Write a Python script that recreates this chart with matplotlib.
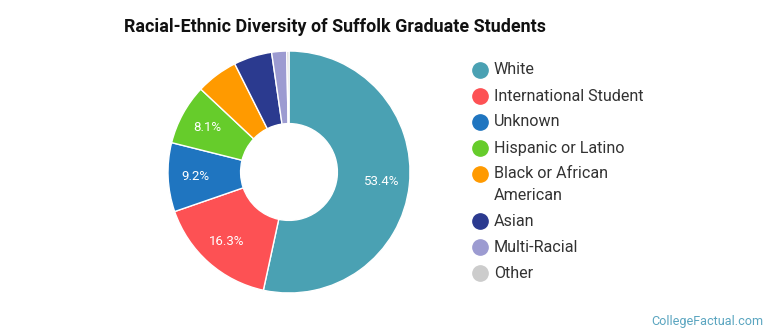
import numpy as np
import matplotlib.pyplot as plt
from matplotlib.lines import Line2D

plt.rcParams['font.family'] = ['Roboto', 'DejaVu Sans']

labels = ["White", "International Student", "Unknown", "Hispanic or Latino",
          "Black or African\nAmerican", "Asian", "Multi-Racial", "Other"]
valores = [53.4, 16.3, 9.2, 8.1, 5.6, 5.1, 2.0, 0.3]
cores = ["#4aa1b3", "#fd5154", "#1f75c0", "#66cc2b", "#ff9a00", "#2b3a8f", "#9c9bd1", "#cccccc"]

W, H = 770, 335
fig = plt.figure(figsize=(W / 100, H / 100), dpi=100)

# donut
cx, cy, r = 289, 172, 121
ax = fig.add_axes([(cx - r) / W, (H - cy - r) / H, 2 * r / W, 2 * r / H])
wedges, textos = ax.pie(valores, colors=cores, startangle=90, counterclock=False,
                        radius=1, wedgeprops=dict(width=0.6, edgecolor="white", linewidth=1))
ax.set_xlim(-1, 1)
ax.set_ylim(-1, 1)
ax.set_aspect("equal")
ax.axis("off")

# porcentagens (só as fatias maiores)
for w, v in zip(wedges, valores):
    if v < 8:
        continue
    ang = np.deg2rad((w.theta1 + w.theta2) / 2)
    ax.text(0.77 * np.cos(ang), 0.77 * np.sin(ang), f"{v}%", color="white",
            fontsize=9.5, ha="center", va="center")

fig.text(124 / W, 1 - 27 / H, "Racial-Ethnic Diversity of Suffolk Graduate Students",
         fontsize=12.9, fontweight="bold", color="#111111", va="center", ha="left")

# legenda manual
ys = [70, 96, 122, 148, 174, 221, 247, 273]
for lab, cor, y in zip(labels, cores, ys):
    fig.add_artist(Line2D([480 / W], [1 - y / H], marker="o", markersize=11,
                          color=cor, transform=fig.transFigure, linestyle="none"))
    partes = lab.split("\n")
    for i, p in enumerate(partes):
        fig.text(494 / W, 1 - (y + 21 * i) / H, p, fontsize=11.6, color="#333333",
                 va="center", ha="left")

fig.text(763 / W, 1 - 321 / H, "CollegeFactual.com", fontsize=9.1, color="#5aa5c0",
         ha="right", va="center")

fig.savefig("out.png", dpi=100)
